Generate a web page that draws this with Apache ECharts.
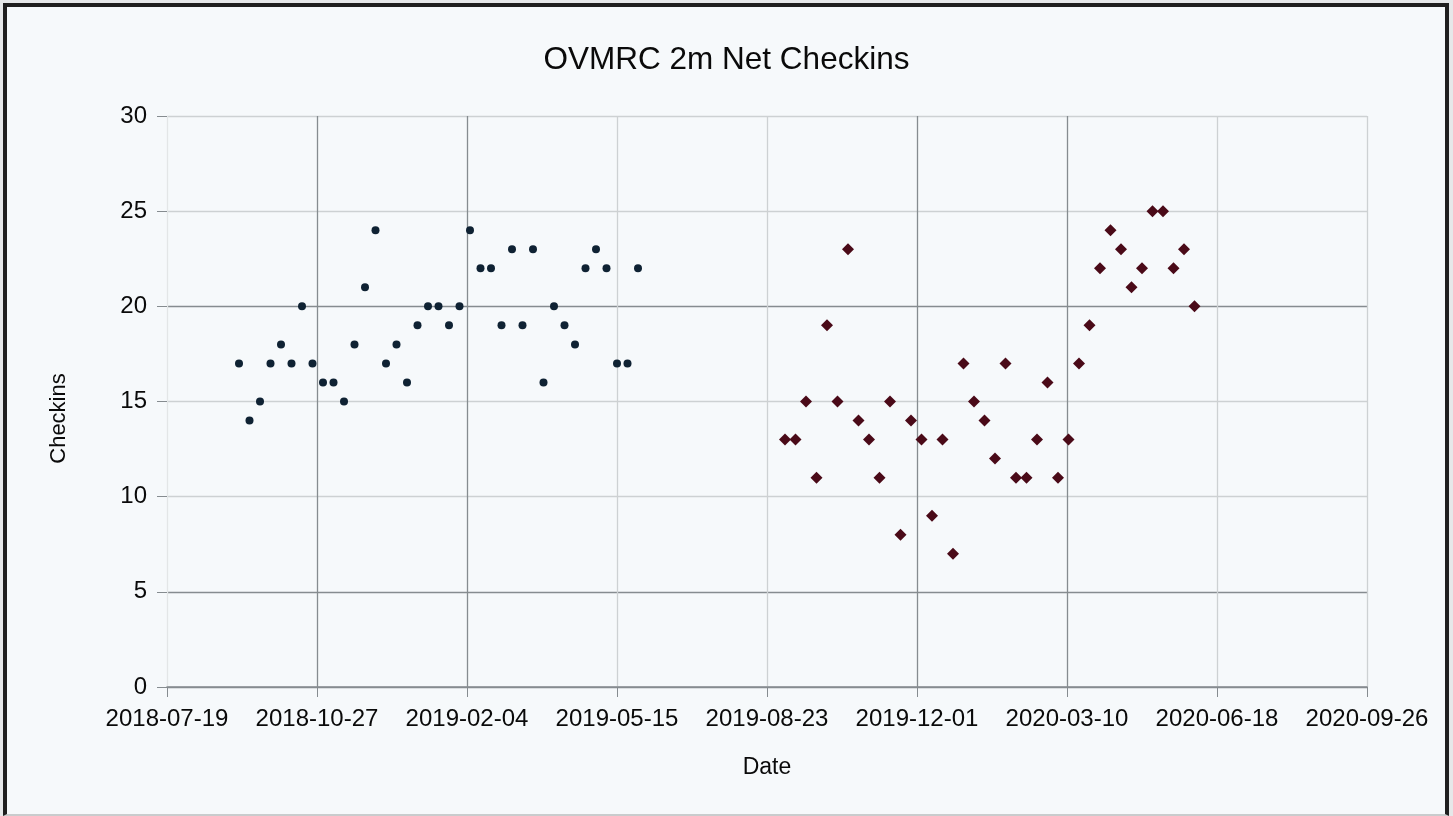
<!DOCTYPE html>
<html>
<head>
<meta charset="utf-8">
<title>OVMRC 2m Net Checkins</title>
<script src="https://cdn.jsdelivr.net/npm/echarts@6/dist/echarts.min.js"></script>
<style>
  html, body { margin: 0; padding: 0; background: #e6e8e9; overflow: hidden; }
  #frame {
    position: absolute; left: 3px; top: 3px; width: 1438px; height: 807px;
    border: 4px solid #1f1f1f; border-bottom: 2px solid #c9cccd; background: #f6f9fb;
  }
  #main { position: absolute; left: 0; top: 0; width: 1453px; height: 816px; }
</style>
</head>
<body>
<div id="frame"></div>
<div id="main"></div>
<script>
// axis runs in days from this date, one tick every 100 days
const axisStart = '2018-07-19'
const axisDays = 800
const tickDays = 100

// first season (2018-2019)
const season1Dates = [
  '2018-09-05', '2018-09-12', '2018-09-19', '2018-09-26', '2018-10-03', '2018-10-10',
  '2018-10-17', '2018-10-24', '2018-10-31', '2018-11-07', '2018-11-14', '2018-11-21',
  '2018-11-28', '2018-12-05', '2018-12-12', '2018-12-19', '2018-12-26', '2019-01-02',
  '2019-01-09', '2019-01-16', '2019-01-23', '2019-01-30', '2019-02-06', '2019-02-13',
  '2019-02-20', '2019-02-27', '2019-03-06', '2019-03-13', '2019-03-20', '2019-03-27',
  '2019-04-03', '2019-04-10', '2019-04-17', '2019-04-24', '2019-05-01', '2019-05-08',
  '2019-05-15', '2019-05-22', '2019-05-29'
]
const season1Checkins = [
  17, 14, 15, 17, 18, 17, 20, 17, 16, 16, 15, 18, 21,
  24, 17, 18, 16, 19, 20, 20, 19, 20, 24, 22, 22, 19,
  23, 19, 23, 16, 20, 19, 18, 22, 23, 22, 17, 17, 22
]

// second season (2019-2020)
const season2Dates = [
  '2019-09-04', '2019-09-11', '2019-09-18', '2019-09-25', '2019-10-02', '2019-10-09',
  '2019-10-16', '2019-10-23', '2019-10-30', '2019-11-06', '2019-11-13', '2019-11-20',
  '2019-11-27', '2019-12-04', '2019-12-11', '2019-12-18', '2019-12-25', '2020-01-01',
  '2020-01-08', '2020-01-15', '2020-01-22', '2020-01-29', '2020-02-05', '2020-02-12',
  '2020-02-19', '2020-02-26', '2020-03-04', '2020-03-11', '2020-03-18', '2020-03-25',
  '2020-04-01', '2020-04-08', '2020-04-15', '2020-04-22', '2020-04-29', '2020-05-06',
  '2020-05-13', '2020-05-20', '2020-05-27', '2020-06-03'
]
const season2Checkins = [
  13, 13, 15, 11, 19, 15, 23, 14, 13, 11,
  15, 8, 14, 13, 9, 13, 7, 17, 15, 14,
  12, 17, 11, 11, 13, 16, 11, 13, 17, 19,
  22, 24, 23, 21, 22, 25, 25, 22, 23, 20
]

const DAY = 86400000
const startMs = Date.parse(axisStart)
function toDay (s) {
  return (Date.parse(s) - startMs) / DAY
}
function toLabel (d) {
  return new Date(startMs + d * DAY).toISOString().slice(0, 10)
}
function pairs (dates, vals) {
  return dates.map((d, i) => [toDay(d), vals[i]])
}

const font = "'Liberation Sans', Arial, sans-serif"
const dark = '#868c90'
const light = '#cdd1d3'

const chart = echarts.init(document.getElementById('main'))
chart.setOption({
  animation: false,
  title: {
    text: 'OVMRC 2m Net Checkins',
    left: 'center',
    top: 39,
    textStyle: { fontFamily: font, fontSize: 31.5, fontWeight: 'normal', color: '#0a0a0a' }
  },
  grid: { left: 167, right: 86, top: 116, bottom: 129 },
  xAxis: {
    type: 'value',
    min: 0,
    max: axisDays,
    interval: tickDays,
    name: 'Date',
    nameLocation: 'middle',
    nameGap: 69,
    nameTextStyle: { fontFamily: font, fontSize: 23, color: '#0a0a0a' },
    axisLine: { show: true, lineStyle: { color: dark, width: 1.5 } },
    axisTick: { show: true, length: 10, lineStyle: { color: dark } },
    axisLabel: { fontFamily: font, fontSize: 24, color: '#0a0a0a', margin: 20, formatter: toLabel },
    splitLine: { show: true, lineStyle: { color: ['#e3e6e7', dark, dark, light, light, dark, dark, light, light], width: 1.3 } }
  },
  yAxis: {
    type: 'value',
    min: 0,
    max: 30,
    interval: 5,
    name: 'Checkins',
    nameLocation: 'middle',
    nameGap: 97,
    nameTextStyle: { fontFamily: font, fontSize: 22, color: '#0a0a0a', padding: [0, 34, 0, 0] },
    axisLine: { show: false },
    axisTick: { show: true, length: 10, lineStyle: { color: dark } },
    axisLabel: { fontFamily: font, fontSize: 24, color: '#0a0a0a', margin: 20 },
    splitLine: { show: true, lineStyle: { color: [dark, dark, light, light, dark, light, light], width: 1.3 } }
  },
  series: [
    {
      name: '2018-2019',
      type: 'scatter',
      symbol: 'circle',
      symbolSize: 8,
      itemStyle: { color: '#0f2233', opacity: 1 },
      data: pairs(season1Dates, season1Checkins)
    },
    {
      name: '2019-2020',
      type: 'scatter',
      symbol: 'diamond',
      symbolSize: 12,
      itemStyle: { color: '#4a0a18', opacity: 1 },
      data: pairs(season2Dates, season2Checkins)
    }
  ]
})
</script>
</body>
</html>
